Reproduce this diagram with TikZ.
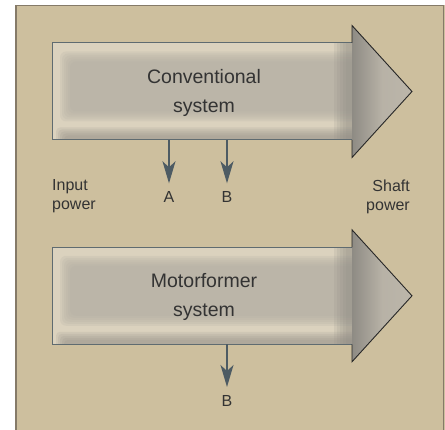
\documentclass[tikz,border=0pt]{standalone}
\usepackage{fontspec}
\setmainfont{Liberation Sans}
\usetikzlibrary{positioning, arrows.meta}

\definecolor{panelfill}{HTML}{CDBF9E}
\definecolor{panelline}{HTML}{857A68}
\definecolor{bodylight}{HTML}{DBD2BE}
\definecolor{bodyshade}{HTML}{B2ACA3}
\definecolor{bodyedge}{HTML}{5F6B70}
\definecolor{headdark}{HTML}{8E8B84}
\definecolor{headlight}{HTML}{BCB6AA}
\definecolor{outarrow}{HTML}{4D5B63}
\definecolor{txtgray}{HTML}{333333}

\begin{document}
\begin{tikzpicture}[x=1pt, y=-1pt,
    bigtext/.style={text=txtgray, align=center, inner sep=0pt, font=\fontsize{19.5}{29}\selectfont},
    smalltext/.style={text=txtgray, inner sep=0pt, font=\fontsize{16}{19}\selectfont},
    lossarrow/.style={draw=outarrow, line width=1.5pt, -{Stealth[length=22pt, width=13pt, inset=6pt]}, shorten >=8pt}]
    \useasboundingbox (0,0) rectangle (445,430);
    % panel
    \fill[panelfill] (15,5) rectangle (445,430);
    \draw[panelline, line width=1.5pt] (15.75,430) -- (15.75,5.75) -- (443.5,5.75) -- (443.5,430);
    % the two power arrows
    \foreach \yc/\name/\txt in {91.5/conv/Conventional, 295.8/motor/Motorformer}{
      \fill[bodylight] (52,\yc-48.5) rectangle (352,\yc+48.5);
      \begin{scope}
        \clip (52,\yc-48.5) rectangle (352,\yc+48.5);
        \foreach \k in {0,...,5}
          \fill[bodyshade, opacity=0.2, rounded corners=6pt] (60+2*\k,\yc-40+2*\k) rectangle (360,\yc+30-2*\k);
        \foreach \k in {0,...,4}
          \fill[bodyshade!80!black, opacity=0.15, rounded corners=4pt] (56+2*\k,\yc+36+2*\k) rectangle (360,\yc+56);
        \foreach \k in {0,...,4}
          \fill[headdark, opacity=0.15] (334+3*\k,\yc-50) rectangle (356,\yc+50);
      \end{scope}
      \draw[bodyedge, line width=1pt] (352,\yc-48.5) -- (52,\yc-48.5) -- (52,\yc+48.5) -- (352,\yc+48.5);
      \shade[left color=headdark, right color=headlight, middle color=headlight!90!headdark]
        (352,\yc-66) -- (412,\yc) -- (352,\yc+66) -- cycle;
      \draw[black!85, line width=0.9pt] (352,\yc-48.5) -- (352,\yc-66) -- (412,\yc) -- (352,\yc+66) -- (352,\yc+48.5);
      \node[bigtext] (\name) at (204,\yc+1) {\txt\\system};
    }
    % labels
    \node[smalltext, align=left, anchor=west] (inpow) at (52,196.5) {Input\\power};
    \node[smalltext, align=right, anchor=east] (shpow) at (410,196.5) {Shaft\\power};
    \node[smalltext] (lossA) at (169,197) {A};
    \node[smalltext] (lossB) at (227,197) {B};
    \node[smalltext] (lossBm) at (227,400.7) {B};
    % loss arrows
    \coordinate (convA) at (169,140);
    \coordinate (convB) at (227,140);
    \coordinate (motorB) at (227,344.3);
    \draw[lossarrow] (convA) -- (lossA.north);
    \draw[lossarrow] (convB) -- (lossB.north);
    \draw[lossarrow] (motorB) -- (lossBm.north);
\end{tikzpicture}
\end{document}
